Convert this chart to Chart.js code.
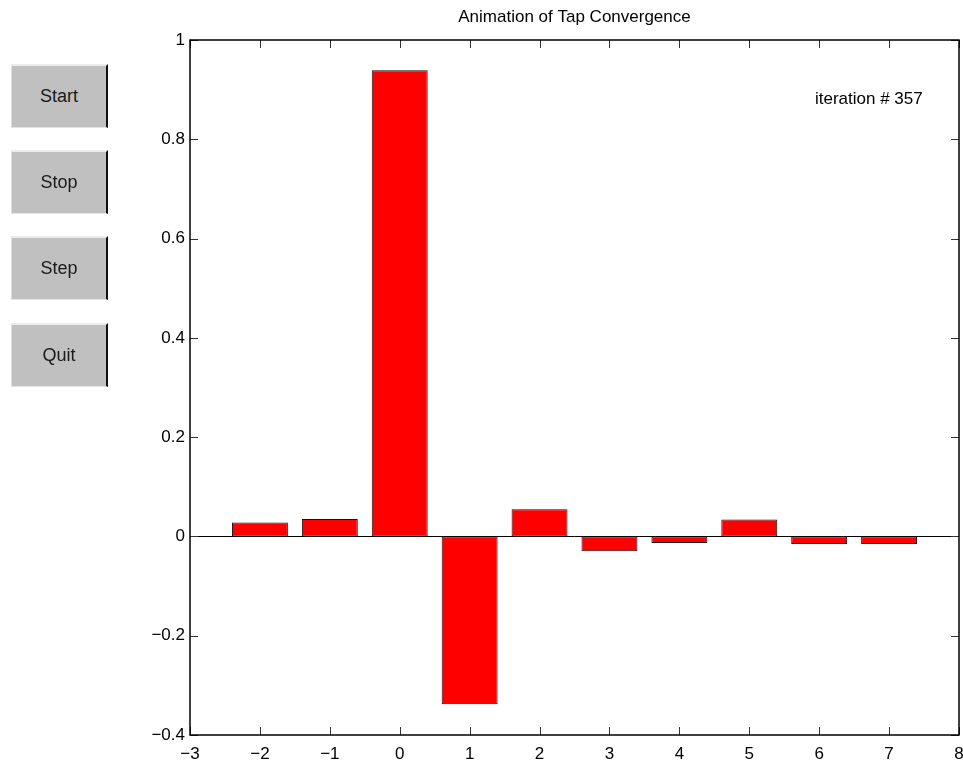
<!DOCTYPE html>
<html>
<head>
<meta charset="utf-8">
<title>Animation of Tap Convergence</title>
<script src="https://cdn.jsdelivr.net/npm/chart.js@4.4.1/dist/chart.umd.min.js"></script>
<style>
    body { margin: 0; background: #fff; }
    #wrap { position: absolute; left: 0; top: 0; width: 963px; height: 761px; }
    .ctrl {
        position: absolute;
        left: 11px;
        width: 97px;
        height: 64px;
        box-sizing: border-box;
        background: #c0c0c0;
        border-top: 2px solid #ececec;
        border-left: 1px solid #dedede;
        border-right: 2px solid #111;
        border-bottom: 1px solid #e4e4e4;
        font: 18px "Liberation Sans", Arial, sans-serif;
        color: #1a1a1a;
        padding: 0;
        z-index: 2;
    }
</style>
</head>
<body>
<div id="wrap"><canvas id="chart"></canvas></div>
<button class="ctrl" style="top:64px">Start</button>
<button class="ctrl" style="top:150px">Stop</button>
<button class="ctrl" style="top:236px">Step</button>
<button class="ctrl" style="top:323px">Quit</button>
<script>
// equalizer taps and their current weights
let taps = [-2, -1, 0, 1, 2, 3, 4, 5, 6, 7];
let tapWeights = [0.028, 0.035, 0.939, -0.338, 0.055, -0.030, -0.013, 0.034, -0.015, -0.015];
let iteration = 357;

// axis limits
let xLimits = [-3, 8];
let yLimits = [-0.4, 1];
let xStep = 1;
let yStep = 0.2;

Chart.defaults.font.family = '"Liberation Sans", Arial, sans-serif';
Chart.defaults.font.size = 17;
Chart.defaults.color = "#000";

function fmtTick(v) {
    let s = String(parseFloat(v.toFixed(2)));
    return s.replace("-", "\u2212");
}

// box around the axes with ticks pointing inward, plus the iteration counter
const axesBox = {
    id: "axesBox",
    afterDatasetsDraw(chart) {
        let ctx = chart.ctx;
        let a = chart.chartArea;
        let xs = chart.scales.x, ys = chart.scales.y;
        let len = 8;
        ctx.save();
        ctx.strokeStyle = "#333";
        ctx.lineWidth = 1;
        ctx.beginPath();
        xs.ticks.forEach(t => {
            let px = Math.round(xs.getPixelForValue(t.value)) + 0.5;
            ctx.moveTo(px, a.bottom); ctx.lineTo(px, a.bottom - len);
            ctx.moveTo(px, a.top); ctx.lineTo(px, a.top + len);
        });
        ys.ticks.forEach(t => {
            let py = Math.round(ys.getPixelForValue(t.value)) + 0.5;
            ctx.moveTo(a.left, py); ctx.lineTo(a.left + len, py);
            ctx.moveTo(a.right, py); ctx.lineTo(a.right - len, py);
        });
        ctx.stroke();

        ctx.strokeStyle = "#000";
        ctx.lineWidth = 1.5;
        ctx.strokeRect(a.left, a.top, a.right - a.left, a.bottom - a.top);

        ctx.fillStyle = "#000";
        ctx.font = '17px "Liberation Sans", Arial, sans-serif';
        ctx.textAlign = "left";
        ctx.textBaseline = "middle";
        ctx.fillText("iteration # " + iteration, xs.getPixelForValue(5.94), ys.getPixelForValue(0.88));
        ctx.restore();
    }
};

let chartInstance = new Chart(document.getElementById("chart").getContext("2d"), {
    type: "bar",
    data: {
        datasets: [{
            data: taps.map((t, i) => ({ x: t, y: tapWeights[i] })),
            backgroundColor: "#ff0000",
            borderColor: "#111",
            borderWidth: 1,
            borderSkipped: false,
            categoryPercentage: 1.0,
            barPercentage: 0.8
        }]
    },
    options: {
        responsive: true,
        maintainAspectRatio: false,
        animation: false,
        layout: { padding: { left: 0, right: 4, top: 0, bottom: 0 } },
        plugins: {
            legend: { display: false },
            tooltip: { enabled: false },
            title: {
                display: true,
                fullSize: false,
                text: "Animation of Tap Convergence",
                color: "#000",
                font: { size: 17, weight: "normal" },
                padding: { top: 7, bottom: 12.6 }
            }
        },
        scales: {
            x: {
                type: "linear",
                offset: false,
                min: xLimits[0],
                max: xLimits[1],
                grid: { display: false, offset: false },
                border: { display: false },
                ticks: { stepSize: xStep, padding: 1, callback: fmtTick, maxRotation: 0 },
                afterFit(scale) {
                    scale.height = 26;
                    scale.paddingLeft = 0;
                    scale.paddingRight = 0;
                }
            },
            y: {
                min: yLimits[0],
                max: yLimits[1],
                border: { display: false },
                grid: {
                    drawTicks: false,
                    color: c => (c.tick && Math.abs(c.tick.value) < 1e-9) ? "#000" : "rgba(0,0,0,0)",
                    lineWidth: 1
                },
                ticks: { stepSize: yStep, padding: 5, callback: fmtTick },
                afterFit(scale) {
                    scale.width = 190;
                    scale.paddingTop = 0;
                    scale.paddingBottom = 0;
                }
            }
        }
    },
    plugins: [axesBox]
});
</script>
</body>
</html>
